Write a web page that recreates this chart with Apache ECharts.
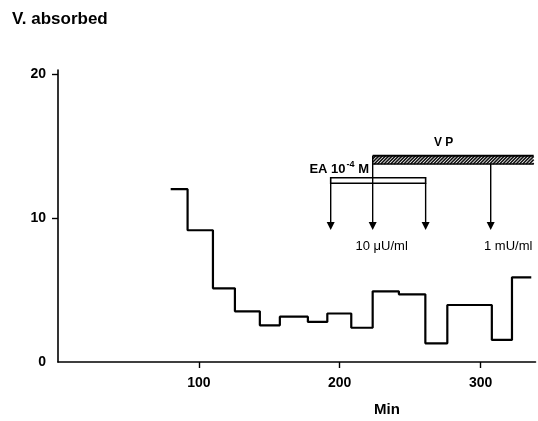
<!DOCTYPE html>
<html><head><meta charset="utf-8">
<script src="https://cdn.jsdelivr.net/npm/echarts@6/dist/echarts.min.js"></script>
<style>html,body{margin:0;padding:0;background:#fff}#c{width:538px;height:421px}</style>
</head><body><div id="c"></div>
<script>
// Absorbed volume, stepwise per collection interval (min)
const stepStarts = [80, 92, 110, 125.6, 143.3, 157.5, 177.4, 191.2, 208.2, 223.4, 242, 260.8, 276.4, 308, 322.3];
const stepValues = [12.0, 9.15, 5.12, 3.52, 2.55, 3.15, 2.78, 3.37, 2.38, 4.91, 4.70, 1.30, 3.96, 1.53, 5.88];
const stepEnd = 336;
const xTickValues = [100, 200, 300];
const yTickValues = [10, 20];
const yLabelValues = [0, 10, 20];
// treatment periods (min) and dose arrows (min)
const vpPeriod = [223.4, 337.7];
const eaPeriod = [193.6, 261];
const eaArrows = [193.6, 261];
const vpArrows = [223.4, 307.2];
const arrowTip = 9.17;
const vpBand = [13.75, 14.33];
const eaBand = [12.41, 12.8];

const FONT = '"Liberation Sans", Arial, sans-serif';
const chart = echarts.init(document.getElementById('c'), null, {renderer: 'canvas'});

const stepData = stepStarts.map((t, i) => [t, stepValues[i]]);
stepData.push([stepEnd, stepValues[stepValues.length - 1]]);

function renderAnno(params, api) {
  const c = (x, y) => api.coord([x, y]);
  const ch = [];
  // VP hatched bar
  const a = c(vpPeriod[0], vpBand[1]), b = c(vpPeriod[1], vpBand[0]);
  const x1 = a[0], x2 = b[0], yt = a[1], yb = b[1], h = yb - yt;
  ch.push({type: 'rect', shape: {x: x1, y: yt, width: x2 - x1, height: h}, style: {fill: '#fff', stroke: null}});
  for (let k = x1 - h; k < x2; k += 3.3) {
    let sx = k, sy = yb, ex = k + h, ey = yt;
    if (sx < x1) { sy -= (x1 - sx); sx = x1; }
    if (ex > x2) { ey += (ex - x2); ex = x2; }
    if (ex <= sx) continue;
    ch.push({type: 'line', shape: {x1: sx, y1: sy, x2: ex, y2: ey}, style: {stroke: '#111', lineWidth: 1.6}});
  }
  ch.push({type: 'line', shape: {x1: x1, y1: yt, x2: x2, y2: yt}, style: {stroke: '#000', lineWidth: 2}});
  ch.push({type: 'line', shape: {x1: x1, y1: yb, x2: x2, y2: yb}, style: {stroke: '#000', lineWidth: 1.5}});
  // EA open bar
  const e1 = c(eaPeriod[0], eaBand[1]), e2 = c(eaPeriod[1], eaBand[0]);
  ch.push({type: 'rect', shape: {x: e1[0], y: e1[1], width: e2[0] - e1[0], height: e2[1] - e1[1]}, style: {fill: '#fff', stroke: '#000', lineWidth: 1.6}});
  // arrows
  const arrow = (xv, fromY) => {
    const p = c(xv, fromY), q = c(xv, arrowTip);
    ch.push({type: 'line', shape: {x1: p[0], y1: p[1], x2: q[0], y2: q[1] - 6}, style: {stroke: '#000', lineWidth: 1.4}});
    ch.push({type: 'polygon', shape: {points: [[q[0] - 4, q[1] - 8], [q[0] + 4, q[1] - 8], [q[0], q[1]]]}, style: {fill: '#000'}});
  };
  eaArrows.forEach(x => arrow(x, eaBand[0]));
  arrow(vpArrows[0], vpBand[1]);
  arrow(vpArrows[1], vpBand[0]);
  // labels
  const t1 = c(273.8, 15.2);
  ch.push({type: 'text', x: t1[0], y: t1[1], style: {text: 'V P', fontSize: 12, fontWeight: 'bold', fontFamily: FONT, fill: '#000', align: 'center', verticalAlign: 'middle'}});
  const t2 = c(220.8, 13.45);
  ch.push({type: 'text', x: t2[0], y: t2[1], style: {
    text: '{n|EA 10}{s|-4}{n| M}', align: 'right', verticalAlign: 'middle', fill: '#000',
    rich: {n: {fontSize: 13, fontFamily: FONT, fontWeight: 'bold', fill: '#000', lineHeight: 16, verticalAlign: 'bottom'},
           s: {fontSize: 9, fontFamily: FONT, fontWeight: 'bold', fill: '#000', lineHeight: 16, verticalAlign: 'top', padding: [0, 0, 0, 1]}}
  }});
  const t3 = c(229.8, 8.0);
  ch.push({type: 'text', x: t3[0], y: t3[1], style: {text: '10 μU/ml', fontSize: 13, fontFamily: FONT, fill: '#000', align: 'center', verticalAlign: 'middle'}});
  const t4 = c(319.6, 8.0);
  ch.push({type: 'text', x: t4[0], y: t4[1], style: {text: '1 mU/ml', fontSize: 13, fontFamily: FONT, fill: '#000', align: 'center', verticalAlign: 'middle'}});
  return {type: 'group', children: ch};
}

chart.setOption({
  animation: false,
  backgroundColor: '#fff',
  grid: {left: 58, right: 2.5, top: 70, bottom: 59, containLabel: false},
  xAxis: {
    type: 'value', min: 0, max: 339,
    axisLine: {lineStyle: {color: '#000', width: 1.6}},
    axisTick: {customValues: xTickValues, length: 6, lineStyle: {color: '#000', width: 1.4}},
    axisLabel: {customValues: xTickValues, color: '#000', fontWeight: 'bold', fontSize: 14, fontFamily: FONT, margin: 14},
    splitLine: {show: false}
  },
  yAxis: {
    type: 'value', min: 0, max: 20.28,
    axisLine: {show: true, lineStyle: {color: '#000', width: 1.6}},
    axisTick: {show: true, customValues: yTickValues, length: 6, lineStyle: {color: '#000', width: 1.4}},
    axisLabel: {customValues: yLabelValues, color: '#000', fontWeight: 'bold', fontSize: 14, fontFamily: FONT, margin: 12},
    splitLine: {show: false}
  },
  graphic: [
    {type: 'text', left: 12, top: 11, style: {text: 'V. absorbed', fontSize: 17, fontWeight: 'bold', fontFamily: FONT, fill: '#000'}},
    {type: 'text', x: 387, y: 410, style: {text: 'Min', fontSize: 15, fontWeight: 'bold', fontFamily: FONT, fill: '#000', align: 'center', verticalAlign: 'middle'}}
  ],
  series: [
    {type: 'line', step: 'end', data: stepData, showSymbol: false, lineStyle: {color: '#000', width: 2.2}, itemStyle: {color: '#000'}, z: 3},
    {type: 'custom', data: [[0, 0]], renderItem: renderAnno, silent: true, z: 4, clip: false}
  ]
});
</script></body></html>
